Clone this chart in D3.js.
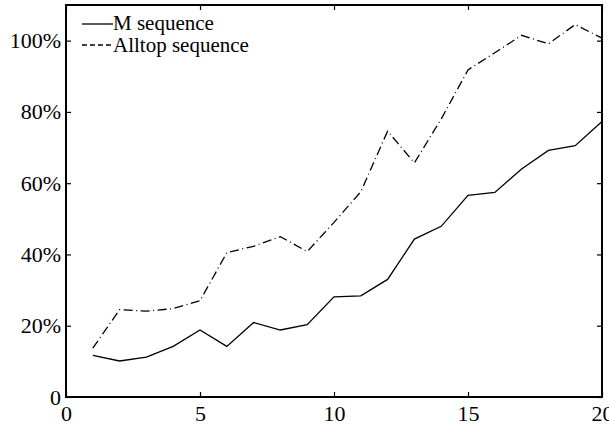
<!DOCTYPE html>
<meta charset="utf-8">
<style>
body { margin: 0; background: #fff; }
svg text { font-family: "Liberation Serif", "Times New Roman", serif; fill: #000; }
.line { fill: none; stroke: #000; stroke-width: 1.3px; }
</style>
<body>
<script src="https://cdn.jsdelivr.net/npm/d3@7"></script>
<script>

// data
var xs = [1,2,3,4,5,6,7,8,9,10,11,12,13,14,15,16,17,18,19,20];
var mSeq = [0.117,0.101,0.112,0.142,0.188,0.142,0.209,0.188,0.203,0.281,0.284,0.330,0.443,0.479,0.566,0.574,0.640,0.692,0.705,0.773];
var alltopSeq = [0.137,0.245,0.241,0.248,0.270,0.405,0.423,0.450,0.408,0.490,0.576,0.746,0.657,0.780,0.918,0.966,1.015,0.991,1.045,1.007];
var xTicks = [0,5,10,15,20];
var yTicks = [0,0.2,0.4,0.6,0.8,1.0];
var seriesNames = ["M sequence", "Alltop sequence"];

var W = 609, H = 425;
var margin = {top: 5, right: 7, bottom: 28, left: 66};

var x = d3.scaleLinear().domain([0, 20]).range([margin.left, W - margin.right]);
var y = d3.scaleLinear().domain([0, 1.1]).range([H - margin.bottom, margin.top]);

var svg = d3.select("body").append("svg")
    .attr("width", W)
    .attr("height", H);

var fmt = function(d) { return d === 0 ? "0" : Math.round(d * 100) + "%"; };

// axes, ticks pointing inward
var gx = svg.append("g")
    .attr("transform", "translate(0," + y(0) + ")")
    .call(d3.axisBottom(x).tickValues(xTicks).tickSizeInner(-5).tickSizeOuter(0).tickPadding(8));
var gy = svg.append("g")
    .attr("transform", "translate(" + x(0) + ",0)")
    .call(d3.axisLeft(y).tickValues(yTicks).tickFormat(fmt).tickSizeInner(-5).tickSizeOuter(0).tickPadding(5));
var gt = svg.append("g")
    .attr("transform", "translate(0," + margin.top + ")")
    .call(d3.axisTop(x).tickValues(xTicks).tickSizeInner(-5).tickSizeOuter(0).tickFormat(""));
var gr = svg.append("g")
    .attr("transform", "translate(" + (W - margin.right) + ",0)")
    .call(d3.axisRight(y).tickValues(yTicks).tickSizeInner(-5).tickSizeOuter(0).tickFormat(""));

[gx, gy, gt, gr].forEach(function(g) {
  g.select(".domain").remove();
  g.selectAll("line").attr("stroke", "#000").attr("stroke-width", 1.2);
  g.selectAll("text").style("font-size", "22px").attr("font-family", null);
});
gx.selectAll("text").attr("dy", "0.72em");

// box
svg.append("rect")
    .attr("x", x(0)).attr("y", y(1.1))
    .attr("width", x(20) - x(0)).attr("height", y(0) - y(1.1))
    .attr("fill", "none").attr("stroke", "#000").attr("stroke-width", 2);

var line = d3.line()
    .x(function(d, i) { return x(xs[i]); })
    .y(function(d) { return y(d); });

svg.append("path").datum(mSeq).attr("class", "line").attr("d", line);
svg.append("path").datum(alltopSeq).attr("class", "line")
    .attr("stroke-dasharray", "9,3.5,1,3.5").attr("d", line);

// legend
var leg = svg.append("g");
seriesNames.forEach(function(name, i) {
  var ly = 24 + i * 21;
  leg.append("line")
      .attr("x1", 82).attr("x2", 113).attr("y1", ly).attr("y2", ly)
      .attr("stroke", "#000").attr("stroke-width", 1.3)
      .attr("stroke-dasharray", i === 1 ? "5,3" : null);
  leg.append("text").attr("x", 113).attr("y", ly + 6 + i)
      .style("font-size", "21px").text(name);
});

</script>
</body>
